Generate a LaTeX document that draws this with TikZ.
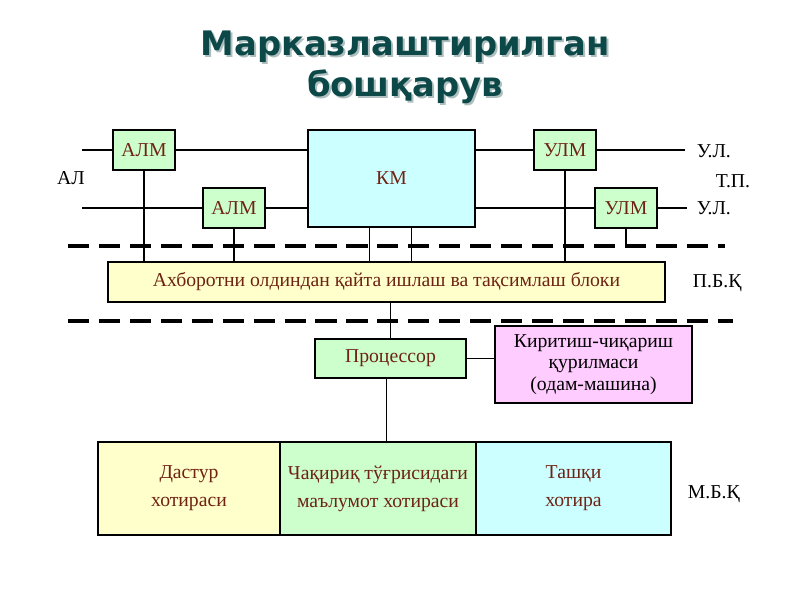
\documentclass[tikz,border=0pt]{standalone}
\usepackage{fontspec}
\setmainfont{Liberation Serif}
\newfontfamily\titlefont{DejaVu Sans}
\usetikzlibrary{positioning}
\definecolor{mint}{RGB}{204,255,204}
\definecolor{sky}{RGB}{204,255,255}
\definecolor{cream}{RGB}{255,255,204}
\definecolor{lilac}{RGB}{255,204,255}
\definecolor{rust}{RGB}{110,35,20}
\definecolor{deepteal}{RGB}{12,72,72}
\definecolor{haze}{RGB}{175,190,190}
\tikzset{
  unit/.style={draw=black,line width=1.5pt,fill=#1,minimum height=1cm,inner sep=1pt,
    text=rust,align=center,font=\fontsize{14}{16}\selectfont},
  unit/.default=mint,
  bus/.style={line width=2pt},
  tap/.style={line width=0.8pt},
  border line/.style={line width=#1,dash pattern=on 15pt off 7pt},
  tag/.style={font=\fontsize{14}{16}\selectfont},
  headline/.style={text=#1,font=\titlefont\bfseries\fontsize{24}{28}\selectfont},
  headline/.default=deepteal
}

\begin{document}
\begin{tikzpicture}[x=0.025cm,y=-0.025cm]
  \useasboundingbox (0,0) rectangle (800,600);
  % title
  \node[headline=haze] (t1s) at (407,49) {Марказлаштирилган};
  \node[headline=haze] (t2s) at (407,89) {бошқарув};
  \node[headline] (t1) at (405,47) {Марказлаштирилган};
  \node[headline] (t2) at (405,87) {бошқарув};
  % top level
  \node[unit,minimum width=1.55cm] (alm1) at (144,150) {АЛМ};
  \node[unit,minimum width=1.55cm] (alm2) at (234,208) {АЛМ};
  \node[unit=sky,minimum width=4.175cm,minimum height=2.425cm] (km) at (391.5,178.5) {КМ};
  \node[unit,minimum width=1.55cm] (ulm1) at (565,150) {УЛМ};
  \node[unit,minimum width=1.55cm] (ulm2) at (626,208) {УЛМ};
  \coordinate (in1) at (82,150);
  \coordinate (in2) at (82,208);
  \coordinate (out1) at (685,150);
  \coordinate (out2) at (687,208);
  \draw[bus] (in1) -- (alm1.west) (alm1.east) -- (alm1.east -| km.west);
  \draw[bus] (in2) -- (alm2.west) (alm2.east) -- (alm2.east -| km.west);
  \draw[bus] (km.east |- ulm1.west) -- (ulm1.west) (ulm1.east) -- (out1);
  \draw[bus] (km.east |- ulm2.west) -- (ulm2.west) (ulm2.east) -- (out2);
  \node[tag] (al) at (71,178) {АЛ};
  \node[tag,right] (ul1) at (692,151) {У.Л.};
  \node[tag,right] (tp) at (711,181) {Т.П.};
  \node[tag,right] (ul2) at (692,208) {У.Л.};
  % dashed borders
  \coordinate (d1l) at (68,246);
  \coordinate (d1r) at (725,246);
  \coordinate (d2l) at (68,321);
  \coordinate (d2r) at (733,321);
  \draw[border line=2.2pt] (d1l) -- (d1r);
  \draw[border line=2.8pt] (d2l) -- (d2r);
  % preprocessing block
  \node[unit=cream,minimum width=13.925cm] (pbq) at (386.5,282) {Ахборотни олдиндан қайта ишлаш ва тақсимлаш блоки};
  \node[tag,right] (pbqt) at (688,283) {П.Б.Қ};
  \coordinate (kma) at ([xshift=-0.54cm]km.south);
  \coordinate (kmb) at ([xshift=0.51cm]km.south);
  \draw[tap] (alm1.south) -- (alm1.south |- pbq.north);
  \draw[tap] (alm2.south) -- (alm2.south |- pbq.north);
  \draw[tap] (kma) -- (kma |- pbq.north);
  \draw[tap] (kmb) -- (kmb |- pbq.north);
  \draw[tap] (ulm1.south) -- (ulm1.south |- pbq.north);
  \draw[tap] (ulm2.south) -- (ulm2.south |- d1r);
  % processor and terminal
  \node[unit,minimum width=3.775cm,minimum height=0.975cm] (proc) at (390.5,358.5) {Процессор};
  \node[unit=lilac,minimum width=4.925cm,minimum height=1.925cm,text=black,
    font=\fontsize{14}{15.5}\selectfont] (io) at (593.5,364.5) {Киритиш-чиқариш\\қурилмаси\\(одам-машина)};
  \draw[tap] (proc.north) -- (proc.north |- pbq.south);
  \draw[tap] (proc.east) -- (proc.east -| io.west);
  % memory
  \node[unit=cream,minimum width=4.55cm,minimum height=2.325cm,font=\fontsize{14}{20}\selectfont] (prog) at (189,488.5) {Дастур\\хотираси};
  \node[unit,minimum width=4.9cm,minimum height=2.325cm,font=\fontsize{14}{20}\selectfont] (data) at (378,488.5) {Чақириқ тўғрисидаги\\маълумот хотираси};
  \node[unit=sky,minimum width=4.875cm,minimum height=2.325cm,font=\fontsize{14}{20}\selectfont] (ext) at (573.5,488.5) {Ташқи\\хотира};
  \node[tag,right] (mbq) at (683,494) {М.Б.Қ};
  \coordinate (pa) at ([xshift=-0.11cm]proc.south);
  \draw[tap] (pa) -- (pa |- data.north);
\end{tikzpicture}
\end{document}
